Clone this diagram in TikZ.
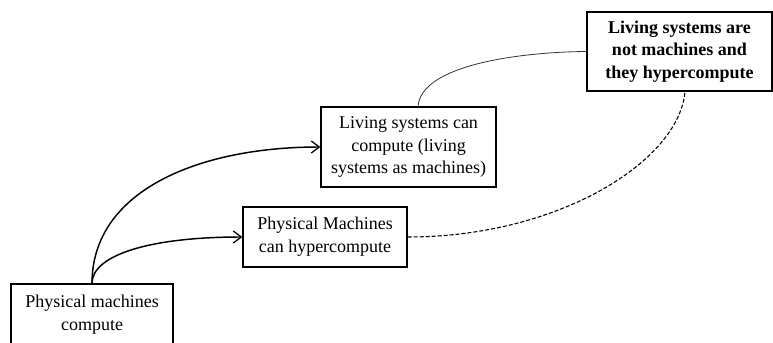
\documentclass[tikz,border=0pt]{standalone}
\usepackage{fontspec}
\setmainfont{Liberation Serif}
\usetikzlibrary{arrows.meta}
\begin{document}
\begin{tikzpicture}[x=0.75pt,y=-0.75pt,
  box/.style={draw,line width=0.9pt,rectangle,inner sep=0pt,align=center,
    font=\fontsize{13.5}{17}\selectfont},
  conn/.style={line width=1.1pt,-{Straight Barb[length=6pt,width=9pt,line width=1pt]}},
  thinconn/.style={line width=0.6pt,draw=black!80},
  dashconn/.style={line width=0.8pt,dash pattern=on 3pt off 1.5pt}]
\useasboundingbox (0,0) rectangle (773,342);
\node[box,minimum width=162*0.75pt,minimum height=62*0.75pt] (a) at (92,315)
  {Physical machines\\compute};
\node[box,minimum width=164*0.75pt,minimum height=60*0.75pt] (b) at (325,237)
  {Physical Machines\\can hypercompute};
\node[box,minimum width=175*0.75pt,minimum height=80*0.75pt] (c) at (408.5,147)
  {Living systems can\\compute (living\\systems as machines)};
\node[box,minimum width=185*0.75pt,minimum height=79*0.75pt,font=\fontsize{13.5}{17}\selectfont\bfseries] (d) at (679.5,51.5)
  {Living systems are\\not machines and\\they hypercompute};
\draw[conn] (a.north) .. controls (92,255) and (150,237) .. (b.west);
\draw[conn] (a.north) .. controls (92,190) and (200,147) .. (c.west);
\coordinate (ctop) at (418,107);
\draw[thinconn] (ctop) .. controls (420,65) and (520,52) .. (d.west);
\coordinate (dbot) at (685,91);
\draw[dashconn] (b.east) .. controls (560,237) and (680,160) .. (dbot);
\end{tikzpicture}
\end{document}
